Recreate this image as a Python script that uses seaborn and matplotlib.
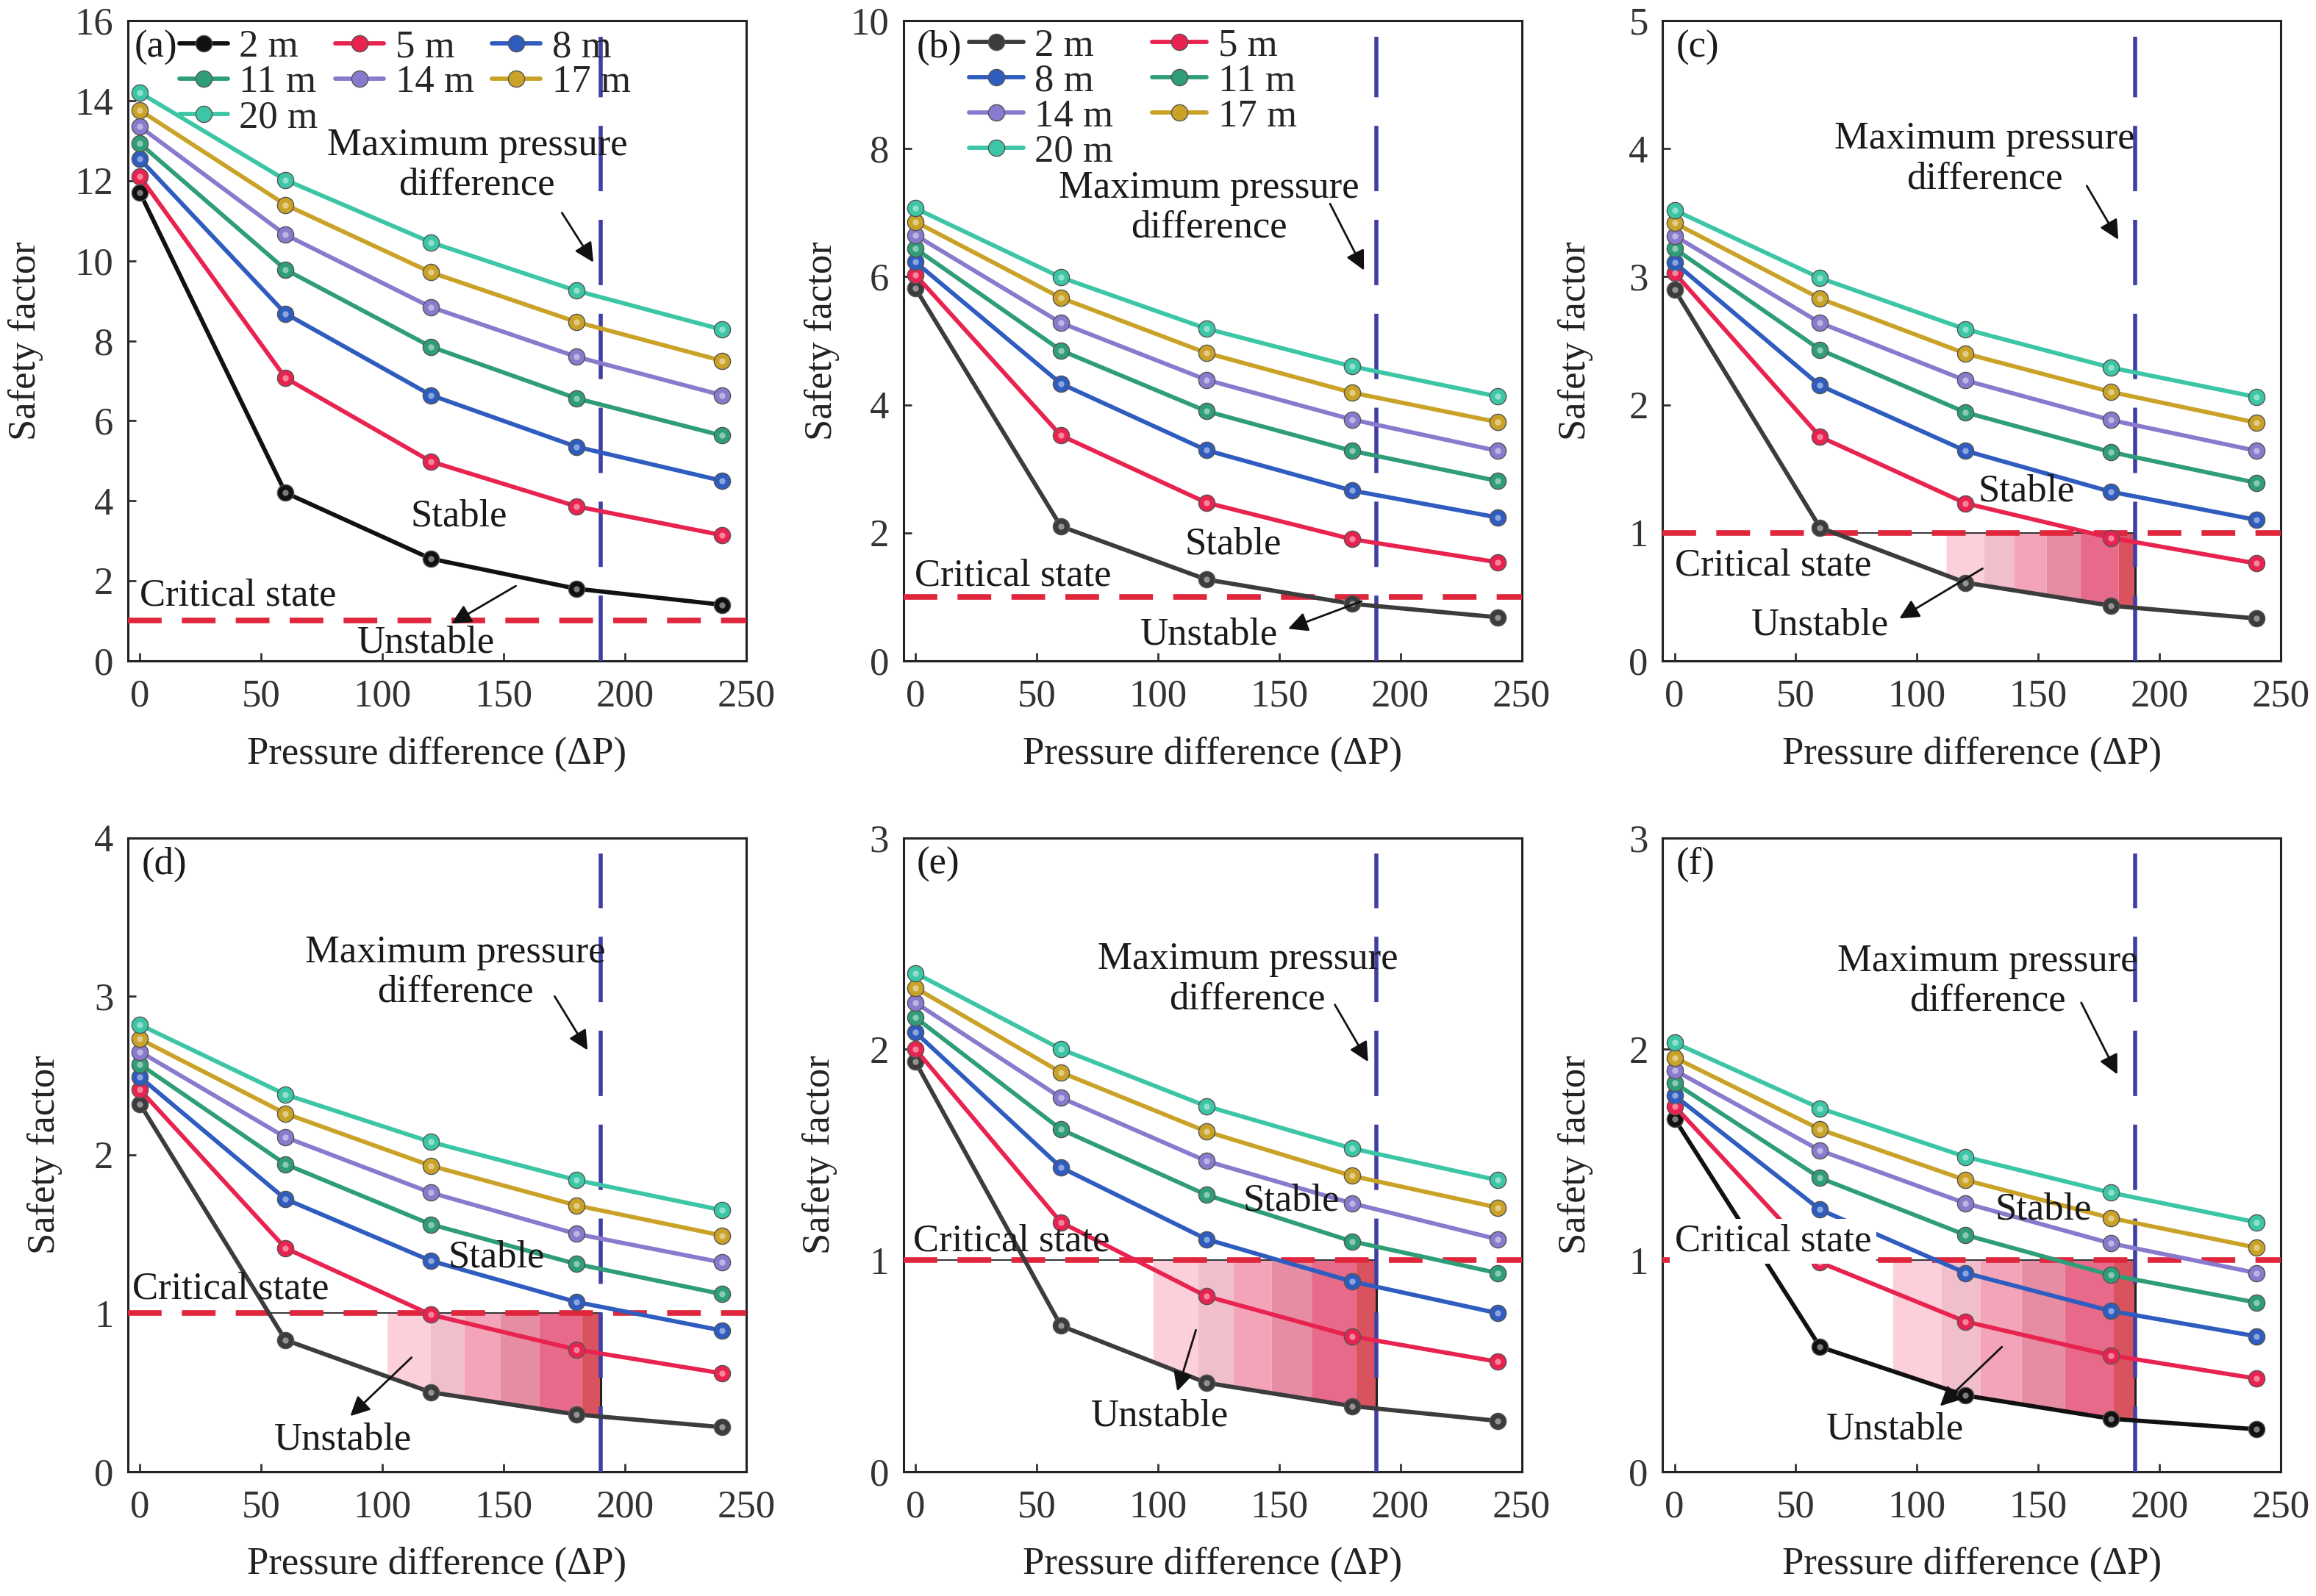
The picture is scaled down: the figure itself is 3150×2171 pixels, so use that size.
import numpy as np
import pandas as pd
import matplotlib
matplotlib.use("Agg")
import matplotlib.pyplot as plt
from matplotlib import font_manager as fm
import seaborn as sns
from matplotlib.lines import Line2D

# ---------------- data ----------------
dp = [0, 60, 120, 180, 240]
depths = ["2 m", "5 m", "8 m", "11 m", "14 m", "17 m", "20 m"]
panel_labels = ["(a)", "(b)", "(c)", "(d)", "(e)", "(f)"]

sf_a = [[11.7, 4.2, 2.55, 1.8, 1.4],
        [12.1, 7.07, 4.98, 3.86, 3.14],
        [12.54, 8.68, 6.64, 5.35, 4.5],
        [12.93, 9.78, 7.85, 6.56, 5.63],
        [13.35, 10.65, 8.84, 7.6, 6.64],
        [13.76, 11.4, 9.71, 8.47, 7.5],
        [14.2, 12.02, 10.46, 9.25, 8.28]]
sf_b = [[5.82, 2.1, 1.27, 0.89, 0.68],
        [6.03, 3.52, 2.47, 1.9, 1.54],
        [6.23, 4.33, 3.29, 2.66, 2.24],
        [6.44, 4.85, 3.9, 3.28, 2.81],
        [6.65, 5.28, 4.39, 3.77, 3.28],
        [6.86, 5.67, 4.81, 4.19, 3.73],
        [7.07, 5.99, 5.19, 4.6, 4.13]]
sf_c = [[2.9, 1.04, 0.61, 0.43, 0.33],
        [3.03, 1.75, 1.23, 0.96, 0.76],
        [3.11, 2.15, 1.64, 1.32, 1.1],
        [3.22, 2.43, 1.94, 1.63, 1.39],
        [3.32, 2.64, 2.19, 1.88, 1.64],
        [3.42, 2.83, 2.4, 2.1, 1.86],
        [3.52, 2.99, 2.59, 2.29, 2.06]]
sf_d = [[2.32, 0.83, 0.5, 0.36, 0.28],
        [2.41, 1.41, 0.99, 0.77, 0.62],
        [2.49, 1.72, 1.33, 1.07, 0.89],
        [2.57, 1.94, 1.56, 1.31, 1.12],
        [2.65, 2.11, 1.76, 1.5, 1.32],
        [2.73, 2.26, 1.93, 1.68, 1.49],
        [2.82, 2.38, 2.08, 1.84, 1.65]]
sf_e = [[1.94, 0.69, 0.42, 0.31, 0.24],
        [2.0, 1.18, 0.83, 0.64, 0.52],
        [2.08, 1.44, 1.1, 0.9, 0.75],
        [2.15, 1.62, 1.31, 1.09, 0.94],
        [2.22, 1.77, 1.47, 1.27, 1.1],
        [2.29, 1.89, 1.61, 1.4, 1.25],
        [2.36, 2.0, 1.73, 1.53, 1.38]]
sf_f = [[1.67, 0.59, 0.36, 0.25, 0.2],
        [1.73, 0.99, 0.71, 0.55, 0.44],
        [1.78, 1.24, 0.94, 0.76, 0.64],
        [1.84, 1.39, 1.12, 0.93, 0.8],
        [1.9, 1.52, 1.27, 1.08, 0.94],
        [1.96, 1.62, 1.38, 1.2, 1.06],
        [2.03, 1.72, 1.49, 1.32, 1.18]]
panels = [sf_a, sf_b, sf_c, sf_d, sf_e, sf_f]

ymax = [16, 10, 5, 4, 3, 3]
ystep = [2, 2, 1, 1, 1, 1]
xticks = [0, 50, 100, 150, 200, 250]
critical_sf = 1.0
max_dp = 190

# ---------------- style ----------------
colors = ["#262626", "#e8234f", "#2f5cbf", "#2f9e78", "#8a7acd", "#c9a227", "#3cc6a6"]
black_line = ["#111111", "#3c3c3c", "#3c3c3c", "#3c3c3c", "#3c3c3c", "#111111"]
band_colors = ["#fcd0da", "#f1bfcb", "#f4a4b8", "#e68ca3", "#e86a8b", "#d9535f"]
band_frac = [0, 0.2, 0.36, 0.53, 0.71, 0.91, 1.0]
shade_start = [None, None, 112, 102, 98, 90]
outline_start = [None, None, 64, 53, -5, -5]

FS = 38
sns.set_theme(style="ticks")
_names = {f.name for f in fm.fontManager.ttflist}
_fams = [n for n in ["Liberation Serif", "Nimbus Roman", "Times New Roman", "DejaVu Serif"] if n in _names]
plt.rcParams["font.family"] = _fams + ["DejaVu Serif"] if _fams else ["serif"]
plt.rcParams["mathtext.fontset"] = "stix"

fig = plt.figure(figsize=(31.5, 21.71), dpi=100)
col_left = [0.0552, 0.390, 0.7178]
row_bottom = [0.586, 0.078]
row_height = [0.401, 0.397]
ax_w = 0.267

ylabel_x = [-0.137, -0.103, -0.112, -0.106, -0.107, -0.112]

# annotation layout (data coords)
max_txt = [(139, 12.38), (121, 7.08), (128, 3.92), (130, 3.15), (137, 2.33), (129, 2.32)]
max_arrow = [((174, 11.2), (187, 9.96)), ((171, 7.14), (185, 6.1)), ((170, 3.71), (183, 3.29)),
             ((171, 3.0), (184.6, 2.66)), ((173, 2.21), (186.7, 1.94)), ((167.7, 2.22), (182.6, 1.88))]
stable_xy = [(131.6, 3.6), (131, 1.82), (145, 1.32), (147, 1.35), (155, 1.28), (152, 1.24)]
crit_xy = [(40.4, 1.62), (40.4, 1.32), (40.6, 0.745), (37.5, 1.15), (39.5, 1.09), (40.6, 1.09)]
unst_xy = [(118, 0.44), (121, 0.4), (60, 0.28), (83.6, 0.2), (100.8, 0.26), (91, 0.2)]
unst_arrow = [((155, 1.87), (128.5, 0.93)), ((184, 0.93), (153.7, 0.5)), ((127, 0.72), (92.7, 0.33)),
              ((112, 0.72), (86.7, 0.35)), ((115.7, 0.67), (108, 0.38)), ((135, 0.59), (109.5, 0.31))]

legend_order = [[0, 3, 6, 1, 4, 2, 5], [0, 2, 4, 6, 1, 3, 5]]
legend_ncol = [3, 2]
legend_anchor = [(0.083, 0.986), (0.106, 0.988)]
legend_colsp = [0.45, 1.0]
legend_hl = [1.25, 1.4]

MS = 16
for i, sf in enumerate(panels):
    r, c = divmod(i, 3)
    ax = fig.add_axes([col_left[c], row_bottom[r], ax_w, row_height[r]])
    ax.set_facecolor("white")
    pal = [black_line[i]] + colors[1:]

    df = pd.DataFrame([(d, x, v) for d, row in zip(depths, sf) for x, v in zip(dp, row)],
                      columns=["depth", "dp", "sf"])

    # unstable shading between 2 m curve and critical line
    if shade_start[i] is not None:
        s = shade_start[i]
        edges = s + np.array(band_frac) * (max_dp - s)
        for k in range(len(band_colors)):
            xg = np.linspace(edges[k], edges[k + 1], 30)
            yb = np.interp(xg, dp, sf[0])
            ax.fill_between(xg, yb, critical_sf, color=band_colors[k], lw=0, zorder=1)
        ax.plot([outline_start[i], max_dp], [critical_sf, critical_sf], color="#222222", lw=1.3, zorder=2)
        ax.plot([max_dp, max_dp], [np.interp(max_dp, dp, sf[0]), critical_sf], color="#222222",
                lw=2.2, zorder=2)

    ax.axhline(critical_sf, color="#e0263c", lw=5.5, dashes=(6, 3.6), zorder=3)
    ax.axvline(max_dp, ymin=0, ymax=0.975, color="#3f3fa6", lw=4, dashes=(16, 7), zorder=3)

    sns.lineplot(data=df, x="dp", y="sf", hue="depth", hue_order=depths, palette=pal,
                 marker="o", markersize=MS, linewidth=4.2, markeredgecolor="#555555",
                 markeredgewidth=1.0, legend=False, ax=ax, zorder=5, estimator=None, sort=False)
    # small highlight on each ball marker
    for k, row in enumerate(sf):
        ax.plot(dp, row, ls="none", marker="o", markersize=6, markerfacecolor="white",
                markeredgewidth=0, alpha=0.45, zorder=6)

    ax.set_xlim(-5, 250)
    ax.set_ylim(0, ymax[i])
    ax.set_xticks(xticks)
    ax.set_yticks(np.arange(0, ymax[i] + 0.01, ystep[i]))
    ax.tick_params(direction="in", length=8, width=2, labelsize=FS, colors="#333333",
                   labelcolor="#333333", pad=14)
    ax.tick_params(axis="x", pad=18)
    for sp in ax.spines.values():
        sp.set_linewidth(2.2)
        sp.set_color("#222222")
        sp.set_visible(True)

    ax.set_xlabel("Pressure difference (ΔP)", fontsize=FS, color="#222222")
    ax.set_ylabel("Safety factor", fontsize=FS, color="#222222")
    ax.xaxis.set_label_coords(0.5, -0.118)
    ax.yaxis.set_label_coords(ylabel_x[i], 0.5)

    # annotations
    ax.text(*max_txt[i], "Maximum pressure\ndifference", fontsize=FS, ha="center", va="center",
            color="#1a1a1a", linespacing=1.15, zorder=7)
    ax.annotate("", xy=max_arrow[i][1], xytext=max_arrow[i][0],
                arrowprops=dict(arrowstyle="-|>", color="#111111", lw=2, mutation_scale=40,
                                shrinkA=0, shrinkB=0), zorder=7)
    ax.text(*stable_xy[i], "Stable", fontsize=FS, ha="center", va="center", color="#1a1a1a", zorder=7)
    bbox = dict(facecolor="white", edgecolor="none", pad=5) if i == 5 else None
    ax.text(*crit_xy[i], "Critical state", fontsize=FS, ha="center", va="center", color="#1a1a1a",
            zorder=7, bbox=bbox)
    ax.text(*unst_xy[i], "Unstable", fontsize=FS, ha="center", va="center", color="#1a1a1a", zorder=7)
    ax.annotate("", xy=unst_arrow[i][1], xytext=unst_arrow[i][0],
                arrowprops=dict(arrowstyle="-|>", color="#111111", lw=2, mutation_scale=40,
                                shrinkA=0, shrinkB=0), zorder=7)

    ax.text(0.01 if i == 0 else 0.022, 0.958, panel_labels[i], transform=ax.transAxes,
            fontsize=FS, ha="left", va="center", color="#1a1a1a", zorder=8)

    if i < 2:
        handles = [Line2D([], [], color=pal[k], lw=4.2, marker="o", markersize=MS,
                          markeredgecolor="#555555", markeredgewidth=1.0) for k in range(len(depths))]
        order = legend_order[i]
        ax.legend([handles[k] for k in order], [depths[k] for k in order], ncol=legend_ncol[i],
                  loc="upper left", bbox_to_anchor=legend_anchor[i], frameon=False,
                  fontsize=FS, handlelength=legend_hl[i], handletextpad=0.3, labelspacing=0.0,
                  columnspacing=legend_colsp[i], borderpad=0, borderaxespad=0)

fig.savefig("out.png", dpi=100, facecolor="white")
